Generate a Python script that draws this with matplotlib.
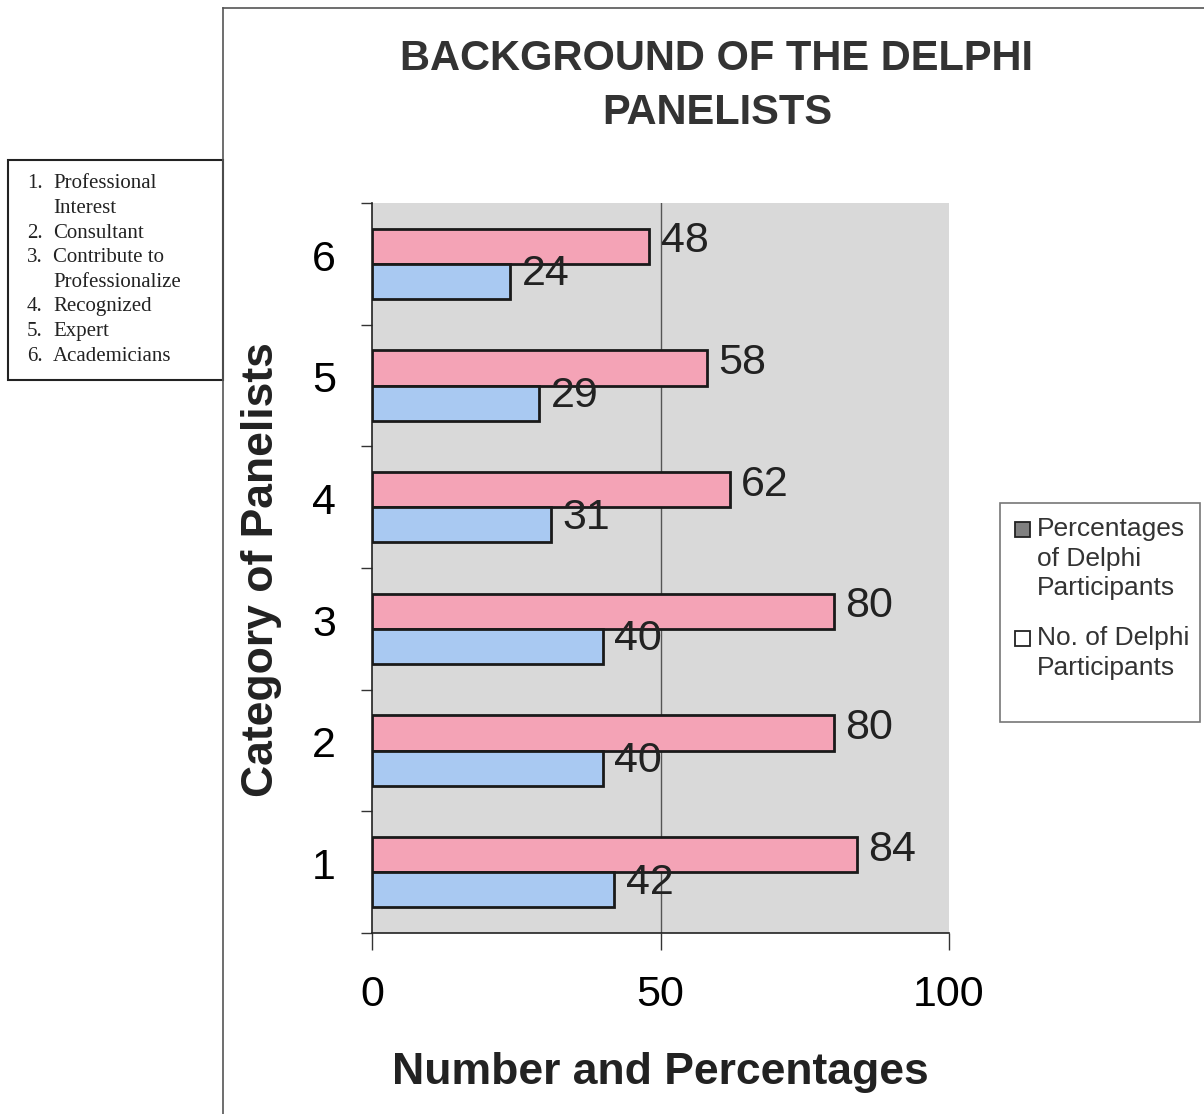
import matplotlib
matplotlib.use("Agg")
import matplotlib.pyplot as plt
import numpy as np
from matplotlib.patches import Rectangle

categories = ["1", "2", "3", "4", "5", "6"]
percentages = [84, 80, 80, 62, 58, 48]
numbers = [42, 40, 40, 31, 29, 24]
xticks = [0, 50, 100]
legend_labels = ["Percentages\nof Delphi\nParticipants", "No. of Delphi\nParticipants"]
legend_swatches = ['#808080', 'white']
key_nums = ["1.", "", "2.", "3.", "", "4.", "5.", "6."]
key_text = ["Professional", "Interest", "Consultant", "Contribute to",
            "Professionalize", "Recognized", "Expert", "Academicians"]

plt.rcParams['font.family'] = ['Liberation Sans', 'DejaVu Sans']

fig = plt.figure(figsize=(12.04, 11.14), dpi=100)
W, H = 1204, 1114

# outer chart frame
fig.add_artist(plt.Line2D([223/W, 223/W], [0, 1 - 8/H], color='#555555', lw=1.2, transform=fig.transFigure))
fig.add_artist(plt.Line2D([223/W, 1], [1 - 8/H, 1 - 8/H], color='#555555', lw=1.2, transform=fig.transFigure))

ax = fig.add_axes([372/W, 1 - 933/H, (949 - 372)/W, (933 - 203)/H])
ax.set_facecolor('#d9d9d9')

y = np.arange(len(categories))
h = 0.29
ax.barh(y + h/2, percentages, height=h, color='#f4a3b6', edgecolor='#1a1a1a', lw=2, zorder=3)
ax.barh(y - h/2, numbers, height=h, color='#a9c9f2', edgecolor='#1a1a1a', lw=2, zorder=3)

for yi, p, n in zip(y, percentages, numbers):
    ax.text(p + 2, yi + h/2 + 0.04, str(p), fontsize=31, va='center', ha='left', color='#222222', zorder=4)
    ax.text(n + 2, yi - h/2 + 0.06, str(n), fontsize=31, va='center', ha='left', color='#222222', zorder=4)

ax.set_xlim(0, 100)
ax.set_ylim(-0.5, 5.5)
ax.set_xticks(xticks)
ax.set_xticklabels([str(t) for t in xticks], fontsize=31)
ax.set_yticks(y + 0.07)
ax.set_yticklabels(categories, fontsize=31)
ax.set_yticks(np.arange(-0.5, 6.0, 1.0), minor=True)
ax.tick_params(axis='y', which='major', length=0, pad=26)
ax.tick_params(axis='y', which='minor', length=8, width=1, direction='out', color='#333333')
ax.tick_params(axis='x', which='major', length=12, width=1, direction='out', pad=18, color='#333333')
ax.axvline(50, color='#555555', lw=1, zorder=1)
for s in ['top', 'right']:
    ax.spines[s].set_visible(False)
ax.spines['left'].set_color('#222222')
ax.spines['bottom'].set_color('#222222')
ax.spines['left'].set_linewidth(1.2)
ax.spines['bottom'].set_linewidth(1.2)

fig.text(660/W, 1 - 1068/H, "Number and Percentages", ha='center', va='center_baseline',
         fontsize=32, fontweight='bold', color='#222222')
fig.text(261/W, 1 - 570/H, "Category of Panelists", ha='center', va='center', rotation=90,
         fontsize=32, fontweight='bold', color='#222222')

fig.text(717/W, 1 - 55/H, "BACKGROUND OF THE DELPHI", ha='center', va='center_baseline',
         fontsize=30, fontweight='bold', color='#333333')
fig.text(717/W, 1 - 109/H, "PANELISTS", ha='center', va='center_baseline',
         fontsize=30, fontweight='bold', color='#333333')

# legend box and entries (swatch aligned with first line of each label)
fig.add_artist(Rectangle((1000/W, 1 - 722/H), 200/W, (722 - 503)/H, transform=fig.transFigure,
                         facecolor='white', edgecolor='#777777', lw=1.2))
entry_tops = [529, 638]
for top, lab, sw in zip(entry_tops, legend_labels, legend_swatches):
    fig.add_artist(Rectangle((1015/W, 1 - (top + 7.5)/H), 15/W, 15/H, transform=fig.transFigure,
                             facecolor=sw, edgecolor='#222222', lw=1.3))
    fig.text(1037/W, 1 - (top - 12)/H, lab, ha='left', va='top', fontsize=19,
             color='#333333', linespacing=1.29)

# key box on left
fig.add_artist(Rectangle((8/W, 1 - 380/H), (223 - 8)/W, (380 - 160)/H, transform=fig.transFigure,
                         facecolor='white', edgecolor='#222222', lw=1.5))
for i, (num, line) in enumerate(zip(key_nums, key_text)):
    yy = 1 - (184 + i*24.6)/H
    if num:
        fig.text(27/W, yy, num, ha='left', va='center', fontsize=15,
                 family=['Liberation Serif'], color='#222222')
    fig.text(53/W, yy, line, ha='left', va='center', fontsize=15,
             family=['Liberation Serif'], color='#222222')

fig.savefig("out.png", dpi=100)
